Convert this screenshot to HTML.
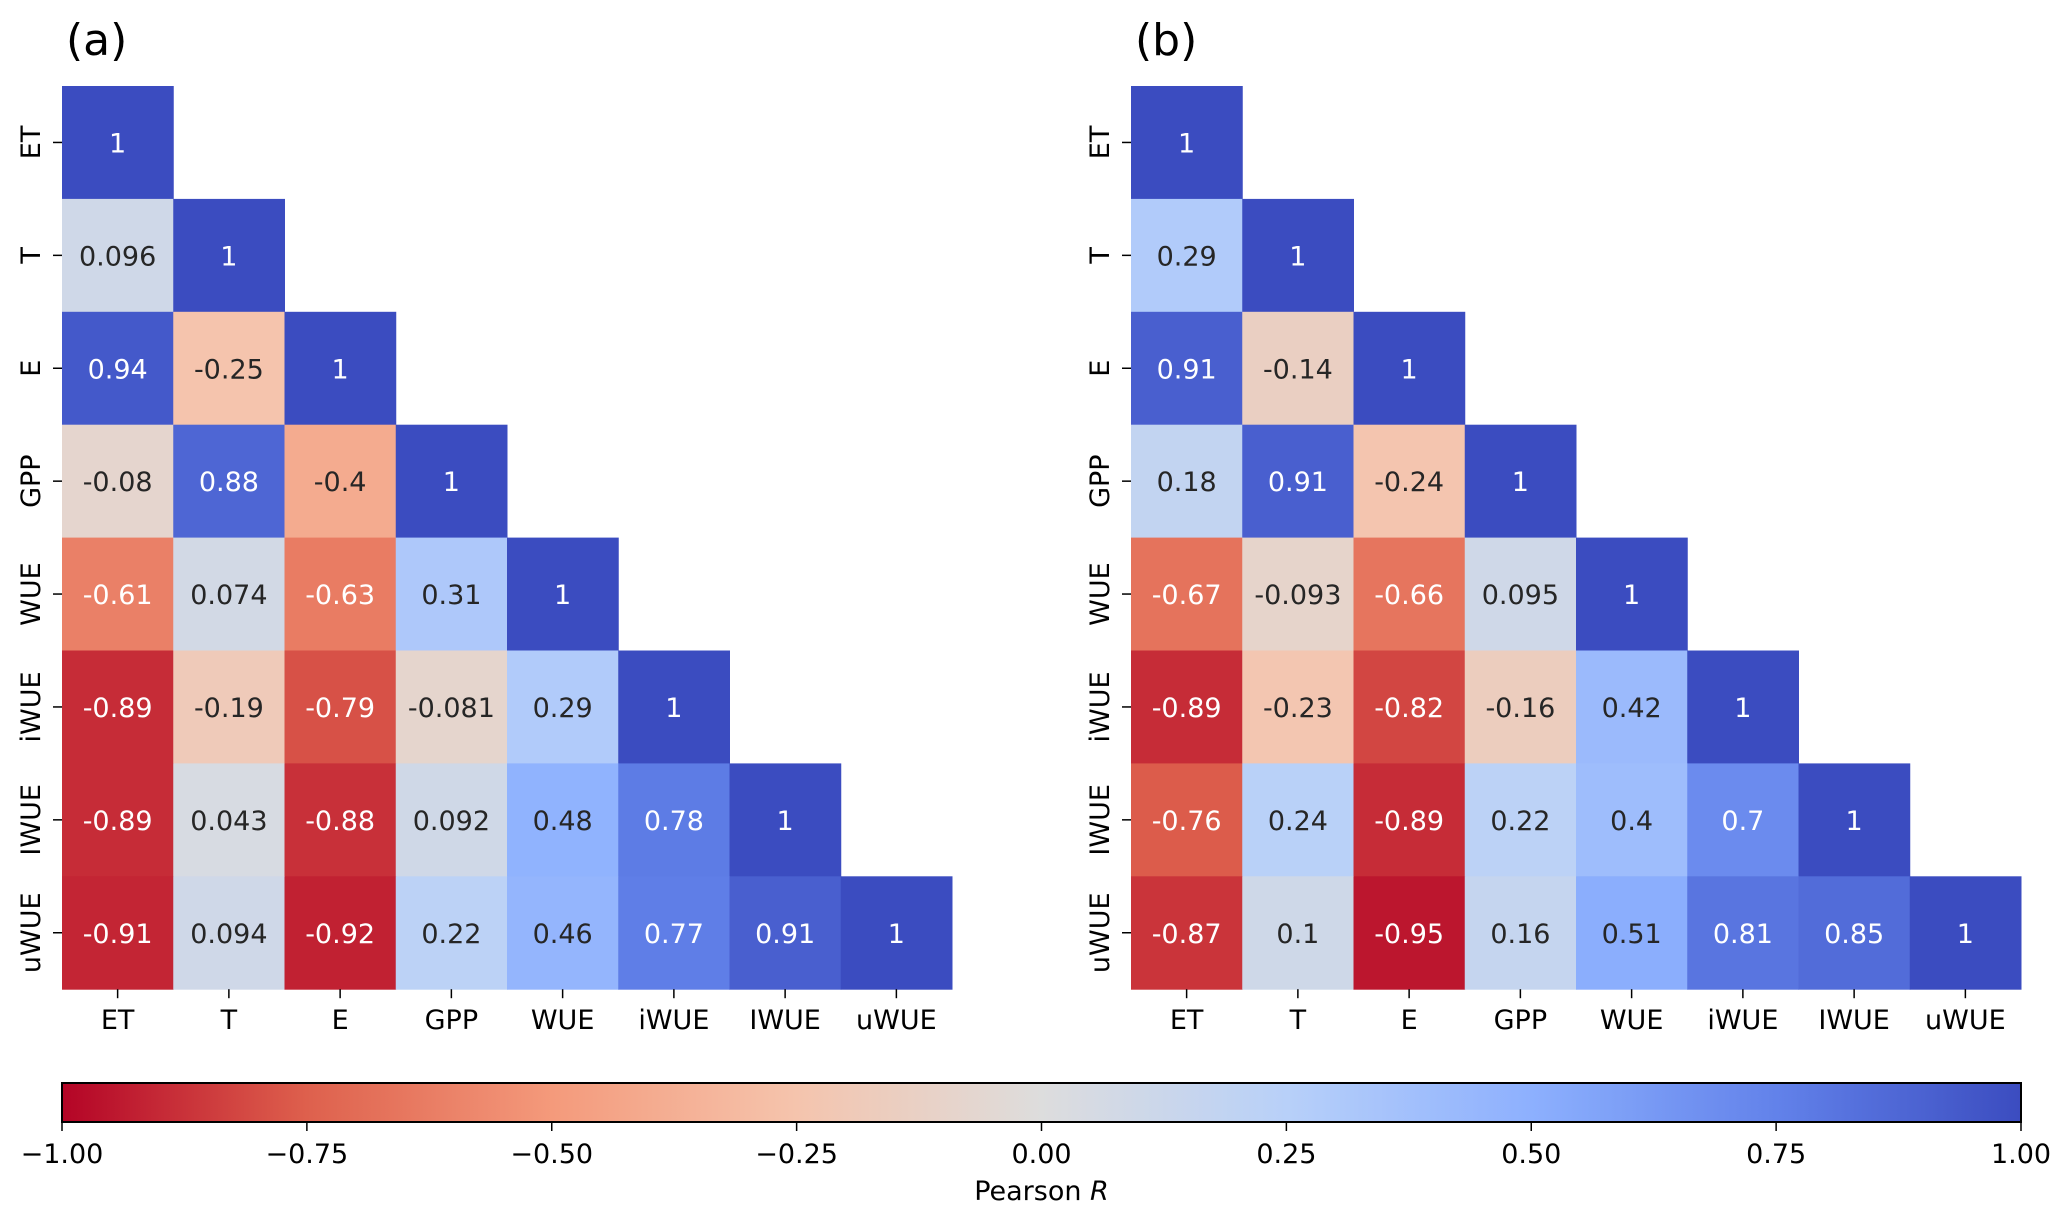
<!DOCTYPE html>
<html><head><meta charset="utf-8">
<style>
html,body{margin:0;padding:0;background:#fff;}
svg{display:block;font-family:"DejaVu Sans","Liberation Sans",sans-serif;}
</style></head>
<body>
<svg id="fig" width="2067" height="1218" viewBox="0 0 2067 1218" xmlns="http://www.w3.org/2000/svg">
<defs><linearGradient id="cbgrad" x1="0" x2="1" y1="0" y2="0"></linearGradient></defs>
</svg>
<script>
const variables = ["ET","T","E","GPP","WUE","iWUE","IWUE","uWUE"];
const corrA = [
 [1],
 [0.096,1],
 [0.94,-0.25,1],
 [-0.08,0.88,-0.4,1],
 [-0.61,0.074,-0.63,0.31,1],
 [-0.89,-0.19,-0.79,-0.081,0.29,1],
 [-0.89,0.043,-0.88,0.092,0.48,0.78,1],
 [-0.91,0.094,-0.92,0.22,0.46,0.77,0.91,1]
];
const corrB = [
 [1],
 [0.29,1],
 [0.91,-0.14,1],
 [0.18,0.91,-0.24,1],
 [-0.67,-0.093,-0.66,0.095,1],
 [-0.89,-0.23,-0.82,-0.16,0.42,1],
 [-0.76,0.24,-0.89,0.22,0.4,0.7,1],
 [-0.87,0.1,-0.95,0.16,0.51,0.81,0.85,1]
];
const colorbarTicks = [-1,-0.75,-0.5,-0.25,0,0.25,0.5,0.75,1];
const colorbarTickLabels = ["\u22121.00","\u22120.75","\u22120.50","\u22120.25","0.00","0.25","0.50","0.75","1.00"];

const NS="http://www.w3.org/2000/svg";
const svg=document.getElementById('fig');
function mk(tag,attrs,parent){const e=document.createElementNS(NS,tag);for(const k in attrs)e.setAttribute(k,attrs[k]);(parent||svg).appendChild(e);return e;}
const cw=[[59,76,192],[98,130,234],[141,176,254],[184,208,249],[221,221,221],[245,196,173],[244,154,123],[222,96,77],[180,4,38]];
function cmap(v){
  let t=(1-v)/2; t=Math.max(0,Math.min(1,t));
  const p=t*8, i=Math.min(7,Math.floor(p)), f=p-i;
  return cw[i].map((c,k)=>Math.round(c+(cw[i+1][k]-c)*f));
}
function rgb(c){return `rgb(${c[0]},${c[1]},${c[2]})`;}
function lum(c){const l=c.map(x=>{x/=255;return x<=0.03928?x/12.92:Math.pow((x+0.055)/1.055,2.4);});return 0.2126*l[0]+0.7152*l[1]+0.0722*l[2];}

const cellW=111.25, cellH=112.9, hmTop=86;
const FS=27;
function xPos(left,j){return left+j*cellW;}
function yPos(i){return hmTop+i*cellH;}

function panel(left,data,label,name){
  const g=mk('g',{});
  
  
  const t=mk('text',{x:left+4,y:55,'font-size':44,fill:'#000'},g);
  t.textContent=label;
  
  
  data.forEach((row,i)=>{
    row.forEach((v,j)=>{
      const c=cmap(v);
      const r=mk('rect',{x:xPos(left,j),y:yPos(i),width:cellW+0.5,height:cellH+0.5,fill:rgb(c)},g);
      
      
      const tx=mk('text',{x:xPos(left,j)+cellW/2,y:yPos(i)+cellH/2+10,'font-size':FS,'text-anchor':'middle',fill:lum(c)>0.408?'#262626':'#fff'},g);
      tx.textContent=String(v);
      
      
    });
  });
  variables.forEach((name2,i)=>{
    const cy=yPos(i)+cellH/2;
    mk('line',{x1:left-9,x2:left,y1:cy,y2:cy,stroke:'#000','stroke-width':1.5},g);
    const yl=mk('text',{x:0,y:0,'font-size':FS,'text-anchor':'middle',transform:`translate(${left-22},${cy}) rotate(-90)`},g);
    yl.textContent=name2;
    
    
    const cx=xPos(left,i)+cellW/2, by=hmTop+8*cellH;
    mk('line',{x1:cx,x2:cx,y1:by,y2:by+9,stroke:'#000','stroke-width':1.5},g);
    const xl=mk('text',{x:cx,y:by+40,'font-size':FS,'text-anchor':'middle'},g);
    xl.textContent=name2;
    
    
  });
}
panel(62,corrA,'(a)','heatmap-a');
panel(1131,corrB,'(b)','heatmap-b');

const grad=document.getElementById('cbgrad');
for(let k=0;k<=40;k++){const v=-1+k/20;mk('stop',{offset:(k/40),'stop-color':rgb(cmap(v))},grad);}
const cbL=62,cbR=2021,cbT=1083,cbB=1122;
function cbX(v){return cbL+(v+1)/2*(cbR-cbL);}
const cb=mk('rect',{x:cbL,y:cbT,width:cbR-cbL,height:cbB-cbT,fill:'url(#cbgrad)',stroke:'#000','stroke-width':2});


colorbarTicks.forEach((v,k)=>{
  const x=cbX(v);
  mk('line',{x1:x,x2:x,y1:cbB,y2:cbB+9,stroke:'#000','stroke-width':1.5});
  const tl=mk('text',{x:x,y:1163,'font-size':FS,'text-anchor':'middle'});
  tl.textContent=colorbarTickLabels[k];
  
  
});
const cbt=mk('text',{x:cbX(0),y:1200,'font-size':FS,'text-anchor':'middle'});
cbt.innerHTML='Pearson <tspan font-style="italic">R</tspan>';


</script>
</body></html>
